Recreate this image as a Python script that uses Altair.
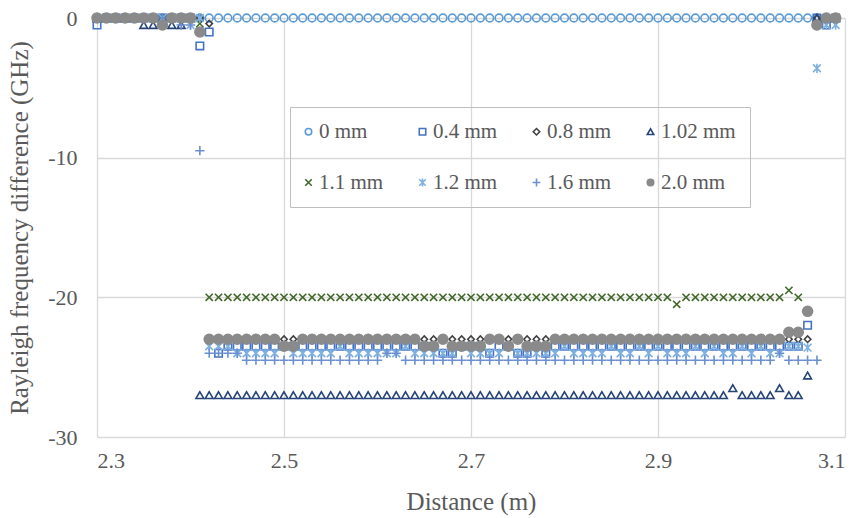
import altair as alt
import pandas as pd

distance = [2.30, 2.31, 2.32, 2.33, 2.34, 2.35, 2.36, 2.37, 2.38, 2.39,
            2.40, 2.41, 2.42, 2.43, 2.44, 2.45, 2.46, 2.47, 2.48, 2.49,
            2.50, 2.51, 2.52, 2.53, 2.54, 2.55, 2.56, 2.57, 2.58, 2.59,
            2.60, 2.61, 2.62, 2.63, 2.64, 2.65, 2.66, 2.67, 2.68, 2.69,
            2.70, 2.71, 2.72, 2.73, 2.74, 2.75, 2.76, 2.77, 2.78, 2.79,
            2.80, 2.81, 2.82, 2.83, 2.84, 2.85, 2.86, 2.87, 2.88, 2.89,
            2.90, 2.91, 2.92, 2.93, 2.94, 2.95, 2.96, 2.97, 2.98, 2.99,
            3.00, 3.01, 3.02, 3.03, 3.04, 3.05, 3.06, 3.07, 3.08, 3.09]

mm_0 = [0, 0, 0, 0, 0, 0, 0, 0, 0, 0,
        0, 0, 0, 0, 0, 0, 0, 0, 0, 0,
        0, 0, 0, 0, 0, 0, 0, 0, 0, 0,
        0, 0, 0, 0, 0, 0, 0, 0, 0, 0,
        0, 0, 0, 0, 0, 0, 0, 0, 0, 0,
        0, 0, 0, 0, 0, 0, 0, 0, 0, 0,
        0, 0, 0, 0, 0, 0, 0, 0, 0, 0,
        0, 0, 0, 0, 0, 0, 0, 0, 0, 0]

mm_04 = [-0.5, 0, 0, 0, 0, 0, 0, 0, 0, 0,
         0, -2.0, -1.0, -24.0, -23.5, -23.5, -23.5, -23.5, -23.5, -23.5,
         -23.5, -23.5, -23.5, -23.5, -23.5, -23.5, -23.5, -23.5, -23.5, -23.5,
         -23.5, -23.5, -23.5, -23.5, -23.5, -23.5, -23.5, -24.0, -24.0, -23.5,
         -23.5, -23.5, -24.0, -23.5, -23.5, -24.0, -24.0, -23.5, -24.0, -23.5,
         -23.5, -23.5, -23.5, -23.5, -23.5, -23.5, -23.5, -23.5, -23.5, -23.5,
         -23.5, -23.5, -23.5, -23.5, -23.5, -23.5, -23.5, -23.5, -23.5, -23.5,
         -23.5, -23.5, -23.5, -23.5, -23.5, -23.5, -22.0, 0, -0.5, 0]

mm_08 = [0, 0, 0, 0, 0, 0, 0, 0, 0, 0,
         0, 0, -0.4, -23.0, -23.0, -23.0, -23.0, -23.0, -23.0, -23.0,
         -23.0, -23.0, -23.0, -23.0, -23.0, -23.0, -23.0, -23.0, -23.0, -23.0,
         -23.0, -23.0, -23.0, -23.0, -23.0, -23.0, -23.0, -23.0, -23.0, -23.0,
         -23.0, -23.0, -23.0, -23.0, -23.0, -23.0, -23.0, -23.0, -23.0, -23.0,
         -23.0, -23.0, -23.0, -23.0, -23.0, -23.0, -23.0, -23.0, -23.0, -23.0,
         -23.0, -23.0, -23.0, -23.0, -23.0, -23.0, -23.0, -23.0, -23.0, -23.0,
         -23.0, -23.0, -23.0, -23.0, -23.0, -23.0, -23.0, 0, 0, 0]

mm_102 = [0, 0, 0, 0, 0, -0.5, -0.5, 0, -0.5, -0.5,
          0, -27.0, -27.0, -27.0, -27.0, -27.0, -27.0, -27.0, -27.0, -27.0,
          -27.0, -27.0, -27.0, -27.0, -27.0, -27.0, -27.0, -27.0, -27.0, -27.0,
          -27.0, -27.0, -27.0, -27.0, -27.0, -27.0, -27.0, -27.0, -27.0, -27.0,
          -27.0, -27.0, -27.0, -27.0, -27.0, -27.0, -27.0, -27.0, -27.0, -27.0,
          -27.0, -27.0, -27.0, -27.0, -27.0, -27.0, -27.0, -27.0, -27.0, -27.0,
          -27.0, -27.0, -27.0, -27.0, -27.0, -27.0, -27.0, -27.0, -26.5, -27.0,
          -27.0, -27.0, -27.0, -26.5, -27.0, -27.0, -25.6, 0, 0, 0]

mm_11 = [0, 0, 0, 0, 0, 0, 0, 0, 0, 0,
         0, -0.4, -20.0, -20.0, -20.0, -20.0, -20.0, -20.0, -20.0, -20.0,
         -20.0, -20.0, -20.0, -20.0, -20.0, -20.0, -20.0, -20.0, -20.0, -20.0,
         -20.0, -20.0, -20.0, -20.0, -20.0, -20.0, -20.0, -20.0, -20.0, -20.0,
         -20.0, -20.0, -20.0, -20.0, -20.0, -20.0, -20.0, -20.0, -20.0, -20.0,
         -20.0, -20.0, -20.0, -20.0, -20.0, -20.0, -20.0, -20.0, -20.0, -20.0,
         -20.0, -20.0, -20.5, -20.0, -20.0, -20.0, -20.0, -20.0, -20.0, -20.0,
         -20.0, -20.0, -20.0, -20.0, -19.5, -20.0, None, None, 0, 0]

mm_12 = [0, 0, 0, 0, 0, 0, 0, 0, 0, 0,
         -0.5, 0, -23.5, -23.5, -23.5, -24.0, -24.0, -24.0, -24.0, -24.0,
         -23.5, -24.0, -24.0, -24.0, -24.0, -24.0, -23.5, -24.0, -24.0, -24.0,
         -24.0, -24.0, -24.0, -23.5, -24.0, -24.0, -24.0, -24.0, -24.0, -23.5,
         -24.0, -24.0, -24.0, -24.0, -23.5, -24.0, -24.0, -24.0, -24.0, -24.0,
         -23.5, -24.0, -24.0, -24.0, -24.0, -23.5, -24.0, -24.0, -23.5, -24.0,
         -23.5, -24.0, -24.0, -24.0, -23.5, -24.0, -23.5, -24.0, -24.0, -23.5,
         -24.0, -23.5, -24.0, -24.0, -23.5, -23.5, -23.6, -3.6, -0.5, -0.5]

mm_16 = [0, 0, 0, 0, 0, 0, 0, 0, 0, -0.5,
         -0.5, -9.5, -24.0, -24.0, -24.0, -24.0, -24.5, -24.5, -24.5, -24.5,
         -24.5, -24.5, -24.5, -24.5, -24.5, -24.5, -24.5, -24.5, -24.5, -24.5,
         -24.5, -24.0, -24.0, -24.5, -24.5, -24.5, -24.5, -24.5, -24.5, -24.5,
         -24.5, -24.5, -24.5, -24.5, -24.5, -24.5, -24.5, -24.5, -24.5, -24.5,
         -24.5, -24.5, -24.5, -24.5, -24.5, -24.5, -24.5, -24.5, -24.5, -24.5,
         -24.5, -24.5, -24.5, -24.5, -24.5, -24.5, -24.5, -24.5, -24.5, -24.5,
         -24.5, -24.5, -24.5, -24.0, -24.5, -24.5, -24.5, -24.5, 0, 0]

mm_20 = [0, 0, 0, 0, 0, 0, 0, -0.5, 0, 0,
         0, -1.0, -23.0, -23.0, -23.0, -23.0, -23.0, -23.0, -23.0, -23.0,
         -23.5, -23.5, -23.0, -23.0, -23.0, -23.0, -23.0, -23.0, -23.0, -23.0,
         -23.0, -23.0, -23.0, -23.0, -23.0, -23.5, -23.5, -23.0, -23.5, -23.5,
         -23.5, -23.5, -23.0, -23.0, -23.5, -23.0, -23.5, -23.5, -23.5, -23.0,
         -23.0, -23.0, -23.0, -23.0, -23.0, -23.0, -23.0, -23.0, -23.0, -23.0,
         -23.0, -23.0, -23.0, -23.0, -23.0, -23.0, -23.0, -23.0, -23.0, -23.0,
         -23.0, -23.0, -23.0, -23.0, -22.5, -22.5, -21.0, -0.5, 0, 0]

series_names = ["0 mm", "0.4 mm", "0.8 mm", "1.02 mm", "1.1 mm", "1.2 mm", "1.6 mm", "2.0 mm"]
series_values = [mm_0, mm_04, mm_08, mm_102, mm_11, mm_12, mm_16, mm_20]
stroke_colors = ["#5B9BD5", "#4472C4", "#404040", "#264478", "#43682B", "#7DB0E0", "#6A8FD2", "#8A8A8A"]
fill_colors = ["transparent"] * 7 + ["#8A8A8A"]

X_PATH = "M-1,-1L1,1M-1,1L1,-1"
STAR_PATH = "M-1,-1L1,1M-1,1L1,-1M0,-1.2L0,1.2"
PLUS_PATH = "M-1.2,0L1.2,0M0,-1.2L0,1.2"
shapes = ["circle", "square", "diamond", "triangle-up", X_PATH, STAR_PATH, PLUS_PATH, "circle"]

rows = []
for name, vals in zip(series_names, series_values):
    for d, v in zip(distance, vals):
        if v is not None:
            rows.append({"Distance": d, "Value": v, "Series": name})
df = pd.DataFrame(rows)

FONT = "Liberation Serif"
TXT = "#595959"

legend = alt.Legend(title=None, orient="none", legendX=193, legendY=89, direction="horizontal",
                    columns=4, gridAlign="all", columnPadding=21, rowPadding=29,
                    padding=14, strokeColor="#BFBFBF", labelFont=FONT,
                    labelFontSize=21, labelColor=TXT, symbolSize=42,
                    symbolStrokeWidth=1.6, labelOffset=0, symbolOffset=-6)

marker_size = (
    alt.when(alt.datum.Series == "2.0 mm").then(alt.value(100))
    .when(alt.datum.Series == "0.8 mm").then(alt.value(42))
    .when(alt.datum.Series == "1.1 mm").then(alt.value(52))
    .when(alt.datum.Series == "0.4 mm").then(alt.value(56))
    .otherwise(alt.value(60))
)

chart = alt.Chart(df).mark_point(strokeWidth=1.6, opacity=1, fillOpacity=1).encode(
    x=alt.X("Distance:Q",
            scale=alt.Scale(domain=[2.3, 3.1], nice=False, zero=False),
            axis=alt.Axis(values=[2.3, 2.5, 2.7, 2.9, 3.1], labelExpr="'' + datum.value",
                          title="Distance (m)", labelPadding=13, titlePadding=18)),
    y=alt.Y("Value:Q",
            scale=alt.Scale(domain=[-30, 0], nice=False, zero=False),
            axis=alt.Axis(values=[-30, -20, -10, 0], labelExpr="'' + datum.value",
                          title="Rayleigh frequency difference (GHz)", labelPadding=20, titlePadding=15)),
    shape=alt.Shape("Series:N", scale=alt.Scale(domain=series_names, range=shapes), legend=legend),
    stroke=alt.Stroke("Series:N", scale=alt.Scale(domain=series_names, range=stroke_colors), legend=legend),
    fill=alt.Fill("Series:N", scale=alt.Scale(domain=series_names, range=fill_colors), legend=legend),
    size=marker_size,
).properties(
    width=748, height=419,
    autosize=alt.AutoSizeParams(type="none"),
    padding={"left": 97, "top": 18, "right": 12, "bottom": 81},
).configure_view(stroke=None).configure_axis(
    grid=True, gridColor="#D9D9D9", gridWidth=1.3, domain=False, ticks=False,
    labelFont=FONT, labelFontSize=22, labelColor=TXT,
    titleFont=FONT, titleFontSize=25, titleColor=TXT, titleFontWeight="normal",
)

chart.save("out.html", embed_options={"renderer": "svg", "actions": False})
